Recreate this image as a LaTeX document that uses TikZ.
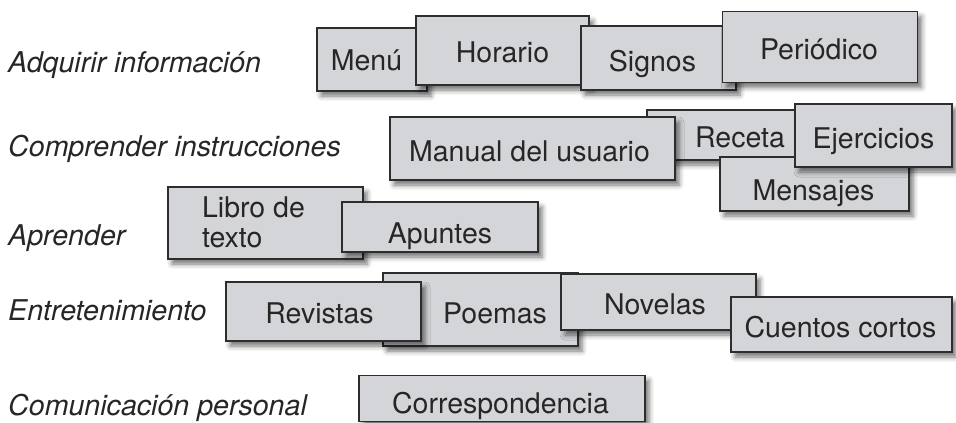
\documentclass[tikz,border=0pt]{standalone}
\usepackage{fontspec}
\setmainfont{TeX Gyre Heros}
\usetikzlibrary{shadows.blur}
\definecolor{boxfill}{RGB}{211,213,216}
\definecolor{boxline}{RGB}{45,45,45}
\definecolor{ink}{RGB}{40,37,38}
\newcommand{\tx}[3]{\makebox[0pt][l]{\hspace*{#1}\makebox[0pt]{\raisebox{-#2}[0pt][0pt]{#3}}}}
\begin{document}
\begin{tikzpicture}[x=1pt,y=-1pt,
  font=\fontsize{28.5}{30}\selectfont,
  box/.style={draw=boxline, line width=1.4pt, fill=boxfill, inner sep=0pt,
    text height=0pt, text depth=0pt, text=ink,
    blur shadow={shadow xshift=4pt, shadow yshift=-5pt, shadow blur radius=5pt, shadow opacity=55}},
  cat/.style={anchor=base west, inner sep=0pt, text=ink,
    font=\fontsize{28.6}{30}\selectfont\itshape}]
\useasboundingbox (0,0) rectangle (956,423);

% category labels
\node[cat] (c1) at (8,72) {Adquirir información};
\node[cat] (c2) at (8,156.5) {Comprender instrucciones};
\node[cat] (c3) at (8,245) {Aprender};
\node[cat] (c4) at (8,320) {Entretenimiento};
\node[cat] (c5) at (8,415) {Comunicación personal};

% row 1
\node[box, minimum width=110pt, minimum height=63pt] (menu) at (372,59.5) {\tx{-5.5pt}{11pt}{Menú}};
\node[box, minimum width=173pt, minimum height=69pt] (horario) at (502.5,50.5) {\tx{0pt}{11.5pt}{Horario}};
\node[box, minimum width=155pt, minimum height=64pt] (signos) at (658.5,58) {\tx{-6pt}{13.7pt}{Signos}};
\node[box, minimum width=195pt, minimum height=71pt] (periodico) at (820,47) {\tx{-1pt}{12.3pt}{Periódico}};

% row 2
\node[box, minimum width=186pt, minimum height=50pt] (receta) at (740,135) {\tx{0pt}{12pt}{Receta}};
\node[box, minimum width=285pt, minimum height=63pt] (manual) at (532.5,148.5) {\tx{-3pt}{13pt}{Manual del usuario}};
\node[box, minimum width=189pt, minimum height=54pt] (mensajes) at (814.5,184) {\tx{-1pt}{16pt}{Mensajes}};
\node[box, minimum width=157pt, minimum height=63pt] (ejercicios) at (873.5,135.5) {\tx{0pt}{12.5pt}{Ejercicios}};

% row 3
\node[box, minimum width=195pt, minimum height=72pt] (libro) at (265.5,223) {\tx{-12pt}{24pt}{\begin{tabular}[b]{@{}l@{}}Libro de\\texto\end{tabular}}};
\node[box, minimum width=196pt, minimum height=50pt] (apuntes) at (440,227) {\tx{0pt}{16pt}{Apuntes}};

% row 4
\node[box, minimum width=195pt, minimum height=73pt] (poemas) at (480.5,309.5) {\tx{14.5pt}{13.5pt}{Poemas}};
\node[box, minimum width=195pt, minimum height=59pt] (revistas) at (323.5,311.5) {\tx{-4pt}{11.5pt}{Revistas}};
\node[box, minimum width=195pt, minimum height=56pt] (novelas) at (658.5,302) {\tx{-3.5pt}{12pt}{Novelas}};
\node[box, minimum width=221pt, minimum height=55pt] (cuentos) at (841.5,324.5) {\tx{-1pt}{12.5pt}{Cuentos cortos}};

% row 5
\node[box, minimum width=286pt, minimum height=46.5pt] (corresp) at (502,398.5) {\tx{-1.5pt}{14.5pt}{Correspondencia}};
\end{tikzpicture}
\end{document}
